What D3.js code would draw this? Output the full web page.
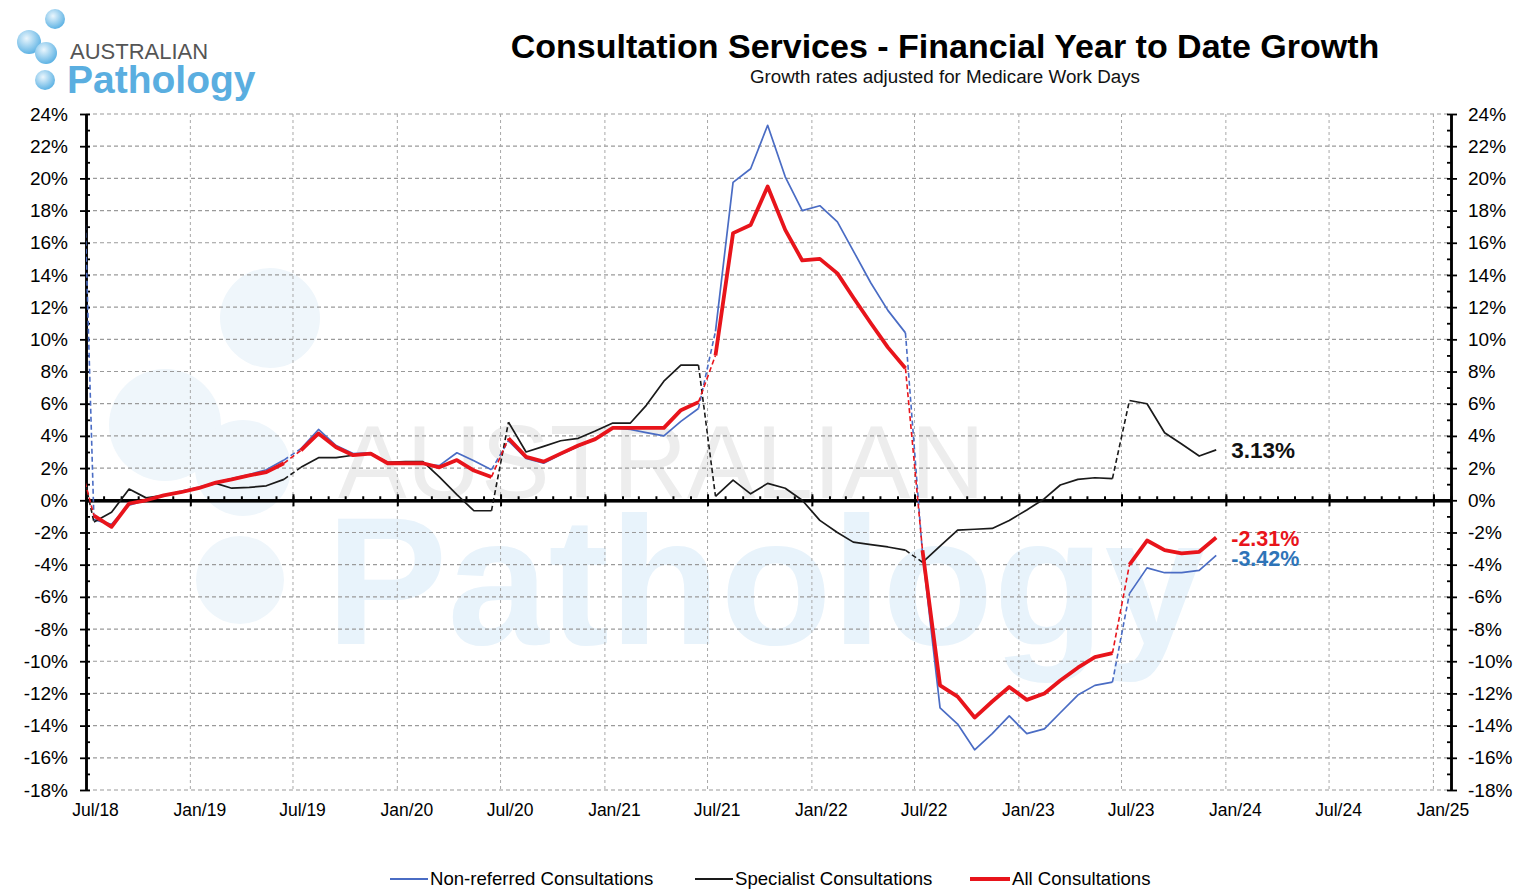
<!doctype html>
<html>
<head>
  <title>Consultation Services</title>
  <script src="https://d3js.org/d3.v7.min.js"></script>
  <style>
    body { margin: 0; background: #fff; }
    svg text { font-family: 'Liberation Sans', Arial, sans-serif; }
  </style>
</head>
<body>
  <svg width="1517" height="890"></svg>
  <script>
    // months from Jun-18 to Dec-23 (Jun-18 sits left of the axis and is clipped)
    var months = [
      "Jun-18",
      "Jul-18","Aug-18","Sep-18","Oct-18","Nov-18","Dec-18","Jan-19","Feb-19","Mar-19","Apr-19","May-19","Jun-19",
      "Jul-19","Aug-19","Sep-19","Oct-19","Nov-19","Dec-19","Jan-20","Feb-20","Mar-20","Apr-20","May-20","Jun-20",
      "Jul-20","Aug-20","Sep-20","Oct-20","Nov-20","Dec-20","Jan-21","Feb-21","Mar-21","Apr-21","May-21","Jun-21",
      "Jul-21","Aug-21","Sep-21","Oct-21","Nov-21","Dec-21","Jan-22","Feb-22","Mar-22","Apr-22","May-22","Jun-22",
      "Jul-22","Aug-22","Sep-22","Oct-22","Nov-22","Dec-22","Jan-23","Feb-23","Mar-23","Apr-23","May-23","Jun-23",
      "Jul-23","Aug-23","Sep-23","Oct-23","Nov-23","Dec-23"
    ];

    var nonReferred = [
      35,
      -1.2, -1.5, -0.3, 0.0, 0.3, 0.55, 0.8, 1.1, 1.35, 1.6, 1.9, 2.5,
      3.2, 4.4, 3.4, 2.9, 2.95, 2.3, 2.3, 2.25, 2.15, 2.95, 2.45, 1.9,
      3.7, 2.6, 2.3, 2.85, 3.35, 3.8, 4.5, 4.4, 4.2, 4.0, 4.9, 5.7,
      10.5, 19.75, 20.6, 23.3, 20.1, 18.0, 18.3, 17.3, 15.5, 13.5, 11.8, 10.4,
      -3.3, -12.9, -13.9, -15.5, -14.5, -13.4, -14.5, -14.2, -13.2, -12.1, -11.5, -11.3,
      -5.8, -4.2, -4.5, -4.5, -4.35, -3.42
    ];

    var specialist = [
      3.4,
      -1.35, -0.75, 0.7, 0.15, 0.3, 0.5, 0.75, 1.05, 0.75, 0.8, 0.9, 1.3,
      2.05, 2.65, 2.65, 2.8, 2.9, 2.35, 2.4, 2.4, 1.45, 0.35, -0.65, -0.65,
      4.85, 3.0, 3.35, 3.7, 3.85, 4.3, 4.8, 4.8, 5.9, 7.4, 8.4, 8.4,
      0.25, 1.25, 0.4, 1.05, 0.75, 0.0, -1.25, -2.0, -2.6, -2.75, -2.9, -3.1,
      -3.85, -2.85, -1.85, -1.8, -1.75, -1.25, -0.6, 0.1, 0.95, 1.3, 1.4, 1.35,
      6.2, 6.0, 4.2, 3.5, 2.75, 3.13
    ];

    var allConsult = [
      3.05,
      -0.95, -1.65, -0.2, 0.0, 0.3, 0.5, 0.75, 1.1, 1.3, 1.55, 1.75, 2.3,
      3.1, 4.15, 3.3, 2.8, 2.9, 2.3, 2.3, 2.3, 2.05, 2.5, 1.85, 1.45,
      3.85, 2.7, 2.4, 2.9, 3.4, 3.8, 4.5, 4.5, 4.5, 4.5, 5.6, 6.1,
      9.0, 16.6, 17.1, 19.5, 16.8, 14.9, 15.0, 14.1, 12.6, 11.0, 9.5, 8.2,
      -3.1, -11.5, -12.2, -13.5, -12.5, -11.6, -12.4, -12.0, -11.2, -10.4, -9.75, -9.5,
      -4.0, -2.5, -3.1, -3.3, -3.2, -2.31
    ];

    var yTicks = d3.range(-18, 25, 2);
    var legendNames = ["Non-referred Consultations", "Specialist Consultations", "All Consultations"];
    var endLabels = ["3.13%", "-2.31%", "-3.42%"];

    var svg = d3.select("svg");
    var plotL = 86, plotR = 1451, plotT = 114, plotB = 790;

    var parse = d3.timeParse("%b-%y");
    var dates = months.map(m => d3.timeDay.offset(parse(m), 14));

    var x = d3.scaleTime()
      .domain([new Date(2018, 6, 1), new Date(2025, 1, 1)])
      .range([plotL, plotR]);
    var y = d3.scaleLinear().domain([-18, 24]).range([plotB, plotT]);

    // ---- watermark ----
    var wm = svg.append("g");
    [[270, 318, 50], [165, 425, 56], [243, 468, 48], [240, 580, 44]].forEach(c => {
      wm.append("circle").attr("cx", c[0]).attr("cy", c[1]).attr("r", c[2]).style("fill", "#eff6fb");
    });
    wm.append("text").attr("x", 338).attr("y", 498)
      .style("font-size", "103px").style("fill", "#ededed").text("AUSTRALIAN");
    wm.append("text").attr("x", 326).attr("y", 644)
      .style("font-size", "182px").style("font-weight", "bold").style("fill", "#e8f3fb").text("Pathology");

    // ---- gridlines ----
    svg.append("g").selectAll("line")
      .data(yTicks.filter(d => d !== 0))
      .enter().append("line")
      .attr("x1", plotL).attr("x2", plotR)
      .attr("y1", d => y(d)).attr("y2", d => y(d))
      .style("stroke", "#9a9a9a").style("stroke-width", 1.2).style("stroke-dasharray", "4,3");

    var halfYears = x.ticks(d3.timeMonth.every(6));
    svg.append("g").selectAll("line")
      .data(halfYears.filter(d => x(d) > plotL + 1))
      .enter().append("line")
      .attr("x1", d => x(d)).attr("x2", d => x(d))
      .attr("y1", plotT).attr("y2", plotB)
      .style("stroke", "#a8a8a8").style("stroke-width", 1).style("stroke-dasharray", "3,3");

    // ---- axes ----
    var yl = svg.append("g").attr("transform", "translate(" + plotL + ",0)")
      .call(d3.axisLeft(y).tickValues(yTicks).tickSize(6).tickSizeOuter(0).tickPadding(12).tickFormat(d => d + "%"));
    svg.append("g").attr("transform", "translate(" + plotL + ",0)")
      .call(d3.axisRight(y).tickValues(yTicks).tickSize(4).tickSizeOuter(0).tickFormat(""));
    svg.append("g").attr("transform", "translate(" + plotL + ",0)")
      .call(d3.axisRight(y).tickValues(d3.range(-17, 24, 2)).tickSize(4).tickSizeOuter(0).tickFormat(""));

    var yr = svg.append("g").attr("transform", "translate(" + plotR + ",0)")
      .call(d3.axisRight(y).tickValues(yTicks).tickSize(6).tickSizeOuter(0).tickPadding(11).tickFormat(d => d + "%"));
    svg.append("g").attr("transform", "translate(" + plotR + ",0)")
      .call(d3.axisLeft(y).tickValues(yTicks).tickSize(4).tickSizeOuter(0).tickFormat(""));
    svg.append("g").attr("transform", "translate(" + plotR + ",0)")
      .call(d3.axisLeft(y).tickValues(d3.range(-17, 24, 2)).tickSize(4).tickSizeOuter(0).tickFormat(""));

    svg.selectAll(".domain").style("stroke", "#000").style("stroke-width", 2.2);
    svg.selectAll(".tick line").style("stroke", "#000").style("stroke-width", 1.8);
    yl.selectAll("text").style("font-size", "19px").style("fill", "#000");
    yr.selectAll("text").style("font-size", "19px").style("fill", "#000");

    // zero line with month ticks
    var zx = svg.append("g").attr("transform", "translate(0," + y(0) + ")");
    zx.call(d3.axisTop(x).ticks(d3.timeMonth.every(1)).tickSize(4).tickSizeOuter(0).tickFormat(""));
    zx.append("g").call(d3.axisBottom(x).tickValues(halfYears).tickSize(6).tickSizeOuter(0).tickFormat(""));
    zx.append("g").call(d3.axisTop(x).tickValues(halfYears).tickSize(6).tickSizeOuter(0).tickFormat(""));
    zx.selectAll(".domain").style("stroke", "#000").style("stroke-width", 3);
    zx.selectAll(".tick line").style("stroke", "#000").style("stroke-width", 2);

    // month labels
    var labelTicks = halfYears.concat([new Date(2025, 0, 1)]).filter((d, i, a) => a.findIndex(e => +e === +d) === i);
    var xl = svg.append("g").attr("transform", "translate(9," + plotB + ")")
      .call(d3.axisBottom(x).tickValues(labelTicks).tickSize(0).tickPadding(14).tickFormat(d3.timeFormat("%b/%y")));
    xl.select(".domain").remove();
    xl.selectAll("text").style("font-size", "17.5px").style("fill", "#000");

    // ---- series ----
    svg.append("clipPath").attr("id", "plot")
      .append("rect").attr("x", plotL).attr("y", plotT).attr("width", plotR - plotL).attr("height", plotB - plotT);

    var line = d3.line().x(d => x(d.date)).y(d => y(d.v));

    function drawSeries(values, color, width) {
      var pts = values.map((v, i) => ({ date: dates[i], v: v }));
      var fy = d => d.date.getMonth() >= 6 ? d.date.getFullYear() + 1 : d.date.getFullYear();
      var groups = Array.from(d3.group(pts, fy).values());
      var g = svg.append("g").attr("clip-path", "url(#plot)");
      groups.forEach((grp, k) => {
        g.append("path").attr("d", line(grp))
          .style("fill", "none").style("stroke", color).style("stroke-width", width)
          .style("stroke-linejoin", "round");
        if (k > 0) {
          var prev = groups[k - 1];
          g.append("path").attr("d", line([prev[prev.length - 1], grp[0]]))
            .style("fill", "none").style("stroke", color).style("stroke-width", 1.6)
            .style("stroke-dasharray", "5,3");
        }
      });
    }

    drawSeries(nonReferred, "#4a6cc4", 1.7);
    drawSeries(specialist, "#1a1a1a", 1.7);
    drawSeries(allConsult, "#e8141b", 3.8);

    // end labels
    var last = dates[dates.length - 1];
    svg.append("text").attr("x", x(last) + 15).attr("y", y(3.13) + 8)
      .style("font-size", "22.5px").style("font-weight", "bold").style("fill", "#111").text(endLabels[0]);
    svg.append("text").attr("x", x(last) + 15).attr("y", 546)
      .style("font-size", "21.5px").style("font-weight", "bold").style("fill", "#e8141b").text(endLabels[1]);
    svg.append("text").attr("x", x(last) + 15).attr("y", 566)
      .style("font-size", "21.5px").style("font-weight", "bold").style("fill", "#2e74b8").text(endLabels[2]);

    // ---- titles ----
    svg.append("text").attr("x", 945).attr("y", 58).attr("text-anchor", "middle")
      .style("font-size", "34px").style("font-weight", "bold").style("fill", "#000")
      .text("Consultation Services - Financial Year to Date Growth");
    svg.append("text").attr("x", 945).attr("y", 83).attr("text-anchor", "middle")
      .style("font-size", "18.8px").style("fill", "#111")
      .text("Growth rates adjusted for Medicare Work Days");

    // ---- logo ----
    var defs = svg.append("defs");
    var grad = defs.append("radialGradient").attr("id", "bub").attr("cx", "40%").attr("cy", "35%").attr("r", "65%");
    grad.append("stop").attr("offset", "0%").attr("stop-color", "#eaf6fd");
    grad.append("stop").attr("offset", "100%").attr("stop-color", "#5fb3e4");
    [[55, 19, 10], [29, 42, 12], [46, 53, 11], [45, 80, 10]].forEach(c => {
      svg.append("circle").attr("cx", c[0]).attr("cy", c[1]).attr("r", c[2]).style("fill", "url(#bub)");
    });
    svg.append("text").attr("x", 70).attr("y", 59)
      .style("font-size", "22px").style("fill", "#555").text("AUSTRALIAN");
    svg.append("text").attr("x", 67).attr("y", 93)
      .style("font-size", "39px").style("font-weight", "bold").style("fill", "#5aaee0").text("Pathology");

    // ---- legend ----
    var legendColors = ["#4a6cc4", "#1a1a1a", "#e8141b"];
    var legendX = [390, 695, 970];
    var legendW = [38, 38, 40];
    var legendSW = [1.8, 1.8, 4];
    var lg = svg.append("g");
    legendNames.forEach((name, i) => {
      lg.append("line").attr("x1", legendX[i]).attr("x2", legendX[i] + legendW[i])
        .attr("y1", 879).attr("y2", 879)
        .style("stroke", legendColors[i]).style("stroke-width", legendSW[i]);
      lg.append("text").attr("x", legendX[i] + legendW[i] + 2).attr("y", 885)
        .style("font-size", "18.6px").style("fill", "#000").text(name);
    });
  </script>
</body>
</html>
